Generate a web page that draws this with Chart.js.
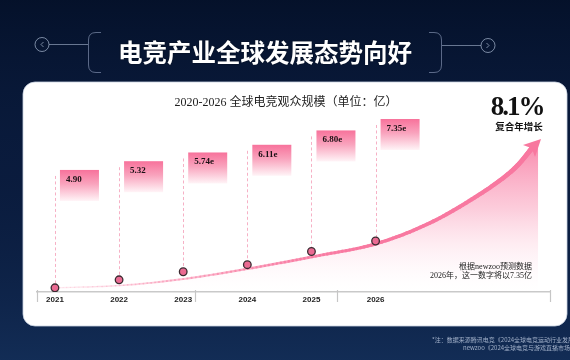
<!DOCTYPE html>
<html><head><meta charset="utf-8">
<script src="https://cdn.jsdelivr.net/npm/chart.js@4"></script>
<style>html,body{margin:0;padding:0;background:#0a1a3a;}canvas{display:block}</style>
</head><body>
<canvas id="c" width="570" height="360"></canvas>
<script>
// ---- data ----
const years = [2021, 2022, 2023, 2024, 2025, 2026];
const values = [4.90, 5.32, 5.74, 6.11, 6.80, 7.35];
const valueLabels = ['4.90', '5.32', '5.74e', '6.11e', '6.80e', '7.35e'];
const yearLabels = ['2021', '2022', '2023', '2024', '2025', '2026'];
const axisBreaks = [2020.72, 2023.18, 2025.40, 2028.72];
// decorative growth arrow (axis units), starts at the first point
const trendWaypoints = [[2022.01, 5.02], [2023.0, 5.36], [2024.08, 5.94], [2025.07, 6.56], [2025.99, 7.19],
                        [2026.85, 8.30], [2027.63, 9.81], [2028.14, 11.07], [2028.44, 12.22]];
const arrowTip = [2028.58, 12.69];

const mainTitle = '电竞产业全球发展态势向好';
const chartTitle = '2020-2026 全球电竞观众规模（单位：亿）';
const cagrText = '8.1%';
const cagrLabel = '复合年增长';
const noteLines = ['根据newzoo预测数据', '2026年，这一数字将以7.35亿'];
const footLines = ['*注：数据来源腾讯电竞《2024全球电竞运动行业发展报告》', 'newzoo《2024全球电竞与游戏直播市场报告》'];

const CJK = "'Noto Sans CJK SC'";
const SERIF = "'Liberation Serif', " + CJK;

function curvePoints(chart) {
  const xs = chart.scales.x, ys = chart.scales.y;
  const pts = [[xs.getPixelForValue(years[0]), ys.getPixelForValue(values[0])]];
  trendWaypoints.forEach(w => pts.push([xs.getPixelForValue(w[0]), ys.getPixelForValue(w[1])]));
  const out = [];
  const n = pts.length;
  for (let i = 0; i < n - 1; i++) {
    const p0 = pts[Math.max(i - 1, 0)], p1 = pts[i], p2 = pts[i + 1], p3 = pts[Math.min(i + 2, n - 1)];
    const c1 = [p1[0] + (p2[0] - p0[0]) / 6, p1[1] + (p2[1] - p0[1]) / 6];
    const c2 = [p2[0] - (p3[0] - p1[0]) / 6, p2[1] - (p3[1] - p1[1]) / 6];
    for (let k = 0; k < 16; k++) {
      const t = k / 16, u = 1 - t;
      const a = u * u * u, b = 3 * u * u * t, c = 3 * u * t * t, d = t * t * t;
      out.push([a * p1[0] + b * c1[0] + c * c2[0] + d * p2[0], a * p1[1] + b * c1[1] + c * c2[1] + d * p2[1]]);
    }
  }
  out.push(pts[n - 1]);
  return out;
}

const decor = {
  id: 'decor',
  beforeDraw(chart) {
    const ctx = chart.ctx;
    ctx.save();
    ctx.fillStyle = '#0a1b3d';
    ctx.fillRect(0, 0, 570, 360);
    const bg = ctx.createLinearGradient(0, 0, 0, 360);
    bg.addColorStop(0, 'rgba(4,16,40,0.9)');
    bg.addColorStop(0.5, 'rgba(10,28,62,0.3)');
    bg.addColorStop(1, 'rgba(22,52,96,0.7)');
    ctx.fillStyle = bg;
    ctx.fillRect(0, 0, 570, 360);

    // title frame
    ctx.strokeStyle = 'rgba(160,175,205,0.55)';
    ctx.lineWidth = 1;
    ctx.beginPath();
    ctx.moveTo(101, 32.5); ctx.lineTo(96, 32.5); ctx.quadraticCurveTo(88.5, 32.5, 88.5, 40);
    ctx.lineTo(88.5, 65); ctx.quadraticCurveTo(88.5, 72.5, 96, 72.5); ctx.lineTo(101, 72.5);
    ctx.moveTo(429, 32.5); ctx.lineTo(434, 32.5); ctx.quadraticCurveTo(441.5, 32.5, 441.5, 40);
    ctx.lineTo(441.5, 65); ctx.quadraticCurveTo(441.5, 72.5, 434, 72.5); ctx.lineTo(429, 72.5);
    ctx.stroke();
    ctx.strokeStyle = 'rgba(170,185,210,0.6)';
    ctx.beginPath(); ctx.moveTo(49, 44.5); ctx.lineTo(88, 44.5); ctx.stroke();
    ctx.beginPath(); ctx.moveTo(442, 45.5); ctx.lineTo(481, 45.5); ctx.stroke();
    ctx.strokeStyle = 'rgba(170,185,210,0.7)';
    ctx.beginPath(); ctx.arc(42, 44.5, 7, 0, Math.PI * 2); ctx.stroke();
    ctx.beginPath(); ctx.arc(488, 45.5, 7, 0, Math.PI * 2); ctx.stroke();
    ctx.beginPath(); ctx.moveTo(43.5, 42); ctx.lineTo(41, 44.5); ctx.lineTo(43.5, 47); ctx.stroke();
    ctx.beginPath(); ctx.moveTo(486.5, 43); ctx.lineTo(489, 45.5); ctx.lineTo(486.5, 48); ctx.stroke();

    // main title
    ctx.fillStyle = '#ffffff';
    ctx.font = "bold 24.5px " + CJK;
    ctx.textAlign = 'center';
    ctx.textBaseline = 'middle';
    ctx.shadowColor = 'rgba(0,0,0,0.5)';
    ctx.shadowBlur = 2;
    ctx.fillText(mainTitle, 265, 53);
    ctx.shadowBlur = 0;

    // card
    ctx.fillStyle = '#ffffff';
    ctx.beginPath();
    ctx.roundRect(23, 82, 544, 244, 12);
    ctx.fill();
    ctx.strokeStyle = 'rgba(200,210,225,0.8)';
    ctx.lineWidth = 1;
    ctx.stroke();
    ctx.restore();
  },
  beforeDatasetsDraw(chart) {
    const ctx = chart.ctx;
    const xs = chart.scales.x, ys = chart.scales.y, y2 = chart.scales.y2;
    const area = chart.chartArea;
    ctx.save();
    const pts = curvePoints(chart);
    const last = pts[pts.length - 1];
    // fill under curve
    const fg = ctx.createLinearGradient(0, area.top, 0, area.bottom);
    fg.addColorStop(0, 'rgba(248,120,160,0.9)');
    fg.addColorStop(0.45, 'rgba(250,170,195,0.6)');
    fg.addColorStop(1, 'rgba(255,240,245,0)');
    ctx.fillStyle = fg;
    ctx.beginPath();
    ctx.moveTo(pts[0][0], pts[0][1]);
    pts.forEach(p => ctx.lineTo(p[0], p[1]));
    ctx.lineTo(last[0] + 6, last[1] - 2);
    ctx.lineTo(last[0] + 6, area.bottom - 1);
    ctx.lineTo(pts[0][0], area.bottom - 1);
    ctx.closePath();
    ctx.fill();

    // dashed guide lines + boxes
    years.forEach((yr, i) => {
      const x = xs.getPixelForValue(yr);
      const top = y2.getPixelForValue(values[i]);
      const dotY = ys.getPixelForValue(values[i]);
      ctx.strokeStyle = '#f6b0c5';
      ctx.lineWidth = 1;
      ctx.setLineDash([3, 2.5]);
      ctx.beginPath();
      ctx.moveTo(Math.round(x) + 0.5, top + 6);
      ctx.lineTo(Math.round(x) + 0.5, dotY);
      ctx.stroke();
      ctx.setLineDash([]);
      const bx = x + 5, bw = 39, bh = 31;
      const g = ctx.createLinearGradient(0, top, 0, top + bh);
      g.addColorStop(0, '#f7729b');
      g.addColorStop(0.45, '#f9a3bd');
      g.addColorStop(1, '#fff4f7');
      ctx.fillStyle = g;
      ctx.fillRect(bx, top, bw, bh);
      ctx.fillStyle = '#1a1014';
      ctx.font = "bold 9px " + SERIF;
      ctx.textAlign = 'left';
      ctx.textBaseline = 'middle';
      ctx.fillText(valueLabels[i], bx + 6, top + 9.5);
    });

    // tapered curve
    const N = pts.length - 1;
    ctx.lineCap = 'round';
    for (let j = 0; j < N; j++) {
      const t = j / N;
      ctx.strokeStyle = 'rgba(248,120,160,' + Math.min(1, 0.12 + t * 1.6).toFixed(3) + ')';
      ctx.lineWidth = 1.2 + 3.8 * t;
      ctx.beginPath();
      ctx.moveTo(pts[j][0], pts[j][1]);
      ctx.lineTo(pts[j + 1][0], pts[j + 1][1]);
      ctx.stroke();
    }
    // arrow head
    const tx = xs.getPixelForValue(arrowTip[0]), ty = ys.getPixelForValue(arrowTip[1]);
    let dx = tx - last[0], dy = ty - last[1];
    const len = Math.hypot(dx, dy); dx /= len; dy /= len;
    const bxp = tx - dx * 17, byp = ty - dy * 17;
    ctx.fillStyle = '#f8789f';
    ctx.beginPath();
    ctx.moveTo(tx, ty);
    ctx.lineTo(bxp - dy * 8.5, byp + dx * 8.5);
    ctx.lineTo(bxp + dx * 4, byp + dy * 4);
    ctx.lineTo(bxp + dy * 8.5, byp - dx * 8.5);
    ctx.closePath();
    ctx.fill();
    ctx.restore();
  },
  afterDraw(chart) {
    const ctx = chart.ctx;
    const xs = chart.scales.x, area = chart.chartArea;
    ctx.save();
    ctx.strokeStyle = '#c6c6c6';
    ctx.lineWidth = 1.2;
    axisBreaks.forEach(v => {
      const x = Math.round(xs.getPixelForValue(v)) + 0.5;
      ctx.beginPath(); ctx.moveTo(x, area.bottom - 2); ctx.lineTo(x, area.bottom + 10); ctx.stroke();
    });
    ctx.fillStyle = '#1e1e1e';
    ctx.textAlign = 'center';
    ctx.textBaseline = 'middle';
    ctx.font = "12px " + SERIF;
    ctx.fillText(chartTitle, 286, 103);
    ctx.font = "bold 27px 'Liberation Serif'";
    ctx.letterSpacing = '-2px';
    ctx.textBaseline = 'alphabetic';
    ctx.fillStyle = '#111';
    ctx.fillText(cagrText, 517, 114.5);
    ctx.letterSpacing = '0px';
    ctx.font = "bold 9.5px " + CJK;
    ctx.textBaseline = 'middle';
    ctx.fillText(cagrLabel, 519, 126);
    ctx.textAlign = 'right';
    ctx.font = "8px " + SERIF;
    ctx.fillStyle = '#222';
    ctx.fillText(noteLines[0], 532, 266.5);
    ctx.fillText(noteLines[1], 532, 276);
    ctx.textAlign = 'left';
    ctx.font = "6px " + CJK;
    ctx.fillStyle = 'rgba(185,198,220,0.85)';
    ctx.fillText(footLines[0], 432, 339.5);
    ctx.fillText(footLines[1], 463, 347.5);
    ctx.restore();
  }
};

new Chart(document.getElementById('c'), {
  type: 'line',
  data: {
    datasets: [{
      label: '全球电竞观众规模',
      data: years.map((yr, i) => ({ x: yr, y: values[i] })),
      showLine: false,
      pointRadius: 3.8,
      pointHoverRadius: 3.8,
      pointBackgroundColor: '#ea6a92',
      pointBorderColor: '#3a2a30',
      pointBorderWidth: 1.3,
      yAxisID: 'y'
    }]
  },
  options: {
    responsive: false,
    devicePixelRatio: 1,
    animation: false,
    layout: { padding: { left: 37, right: 20, top: 140, bottom: 0 } },
    plugins: { legend: { display: false }, tooltip: { enabled: false }, title: { display: false } },
    scales: {
      x: {
        type: 'linear', min: 2020.72, max: 2028.72,
        afterFit(s) { s.height = 68; },
        afterBuildTicks(s) { s.ticks = years.map(v => ({ value: v })); },
        ticks: {
          callback: (v) => yearLabels[years.indexOf(v)] || '',
          font: { family: "'Liberation Sans', Arial", size: 8, weight: 'bold' },
          color: '#222', padding: 3, autoSkip: false, maxRotation: 0
        },
        grid: { display: false, drawTicks: false },
        border: { display: true, color: '#c9c9c9', width: 1.5 }
      },
      y: { type: 'linear', min: 4.68, max: 12.64, display: false },
      y2: { type: 'linear', min: -0.97, max: 6.34, display: false }
    }
  },
  plugins: [decor]
});
</script>
</body></html>
